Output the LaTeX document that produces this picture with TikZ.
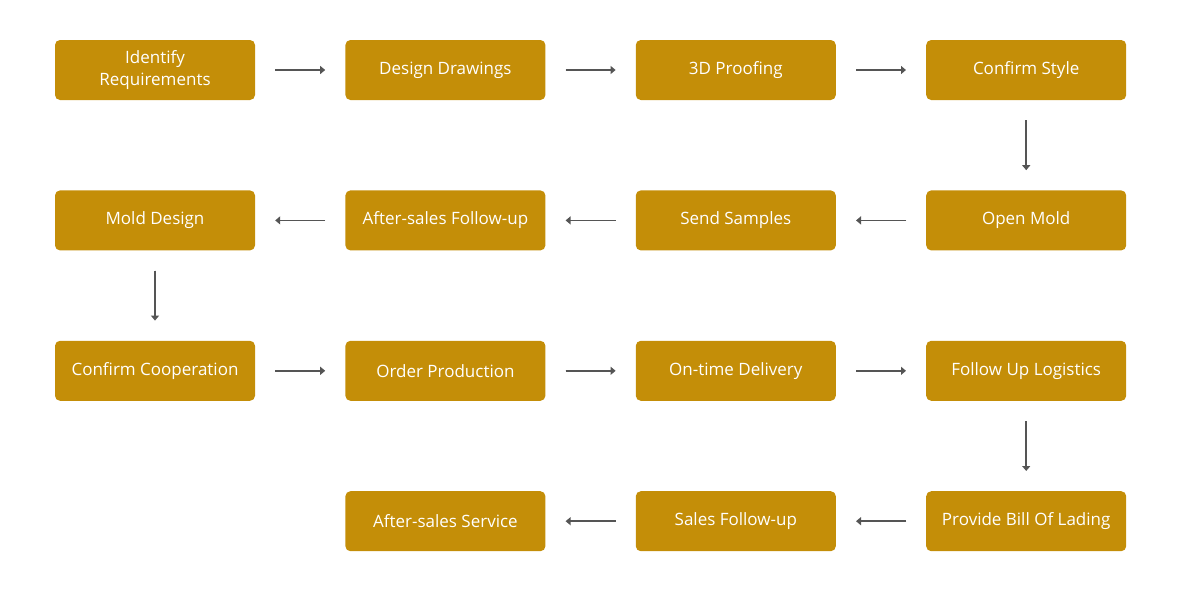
\documentclass[tikz,border=0pt]{standalone}
\usepackage{fontspec}
\setmainfont{Open Sans}
\usetikzlibrary{arrows.meta, positioning}
\definecolor{stepgold}{HTML}{C48E08}
\definecolor{flowgray}{HTML}{555555}

\begin{document}
\begin{tikzpicture}[x=1pt, y=1pt, node distance=90pt and 90pt, >={Triangle[length=5pt, width=8pt]},
    stepbox/.style={fill=stepgold, rounded corners=5pt, minimum width=200pt, minimum height=60pt,
      text=white, align=center, font=\fontsize{17}{22}\selectfont, inner sep=2pt},
    flow/.style={->, draw=flowgray, fill=flowgray, line width=1.6pt, shorten >=20pt, shorten <=20pt}]

        \useasboundingbox (0,0) rectangle (1180,-600);

        % Nodes
        \node[stepbox] (ident) at (155,-70) {Identify\\Requirements};
        \node[stepbox, right=of ident] (drawings) {Design Drawings};
        \node[stepbox, right=of drawings] (proofing) {3D Proofing};
        \node[stepbox, right=of proofing] (style) {Confirm Style};

        \node[stepbox, below=of style] (openmold) {Open Mold};
        \node[stepbox, left=of openmold] (samples) {Send Samples};
        \node[stepbox, left=of samples] (afterfu) {After-sales Follow-up};
        \node[stepbox, left=of afterfu] (molddesign) {Mold Design};

        \node[stepbox, below=of molddesign] (coop) {Confirm Cooperation};
        \node[stepbox, right=of coop] (production) {Order Production};
        \node[stepbox, right=of production] (delivery) {On-time Delivery};
        \node[stepbox, right=of delivery] (logistics) {Follow Up Logistics};

        \node[stepbox, below=of logistics] (lading) {Provide Bill Of Lading};
        \node[stepbox, left=of lading] (salesfu) {Sales Follow-up};
        \node[stepbox, left=of salesfu] (service) {After-sales Service};

        % Arrows
        \draw[flow] (ident) -- (drawings);
        \draw[flow] (drawings) -- (proofing);
        \draw[flow] (proofing) -- (style);
        \draw[flow] (style) -- (openmold);
        \draw[flow] (openmold) -- (samples);
        \draw[flow] (samples) -- (afterfu);
        \draw[flow] (afterfu) -- (molddesign);
        \draw[flow] (molddesign) -- (coop);
        \draw[flow] (coop) -- (production);
        \draw[flow] (production) -- (delivery);
        \draw[flow] (delivery) -- (logistics);
        \draw[flow] (logistics) -- (lading);
        \draw[flow] (lading) -- (salesfu);
        \draw[flow] (salesfu) -- (service);

      \end{tikzpicture}
\end{document}
